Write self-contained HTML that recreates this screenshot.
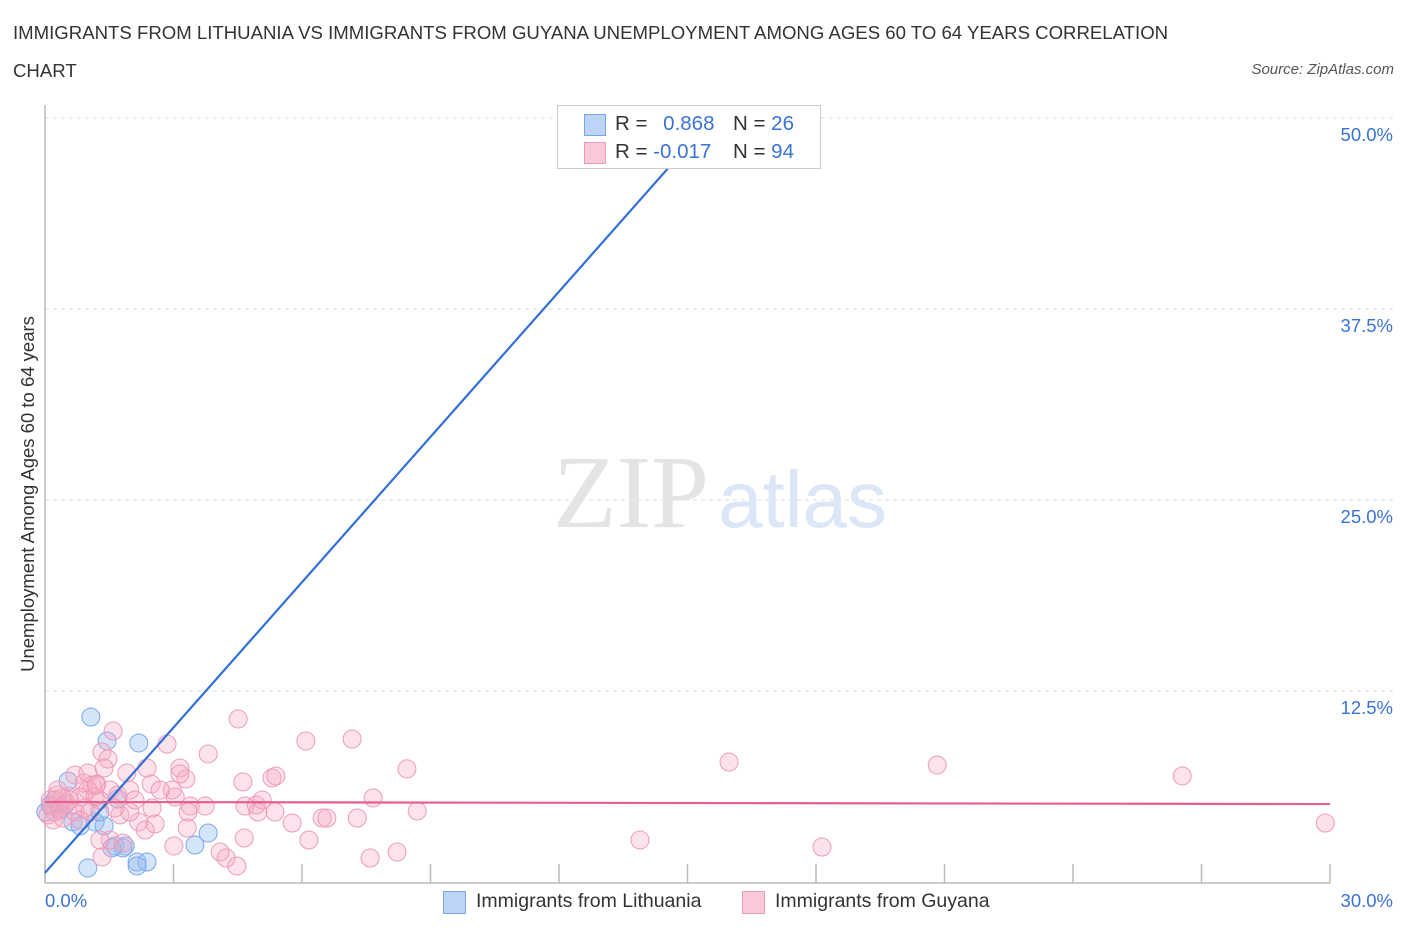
<!DOCTYPE html>
<html><head><meta charset="utf-8"><style>
body{margin:0;background:#fff;font-family:"Liberation Sans",sans-serif;}
#wrap{position:relative;width:1406px;height:930px;overflow:hidden;}
.t{position:absolute;white-space:nowrap;}
</style></head><body>
<div id="wrap">
<div class="t" style="left:13px;top:14px;font-size:18.6px;color:#333;line-height:38px;width:1190px;white-space:normal;">IMMIGRANTS FROM LITHUANIA VS IMMIGRANTS FROM GUYANA UNEMPLOYMENT AMONG AGES 60 TO 64 YEARS CORRELATION CHART</div>
<div class="t" style="right:12px;top:61px;font-size:15px;color:#555;font-style:italic;">Source: ZipAtlas.com</div>
<svg id="svg" width="1406" height="930" style="position:absolute;left:0;top:0"></svg>
</div>
<script>
const xTickVals=[0,3,6,9,12,15,18,21,24,27,30];
const yTickVals=[12.5,25,37.5,50];
const yTickLabels=["12.5%","25.0%","37.5%","50.0%"];
const lithX=[1.07,1.45,2.19,1.70,0.54,0.23,0.12,0.65,1.17,0.82,1.38,1.63,1.87,1.82,3.81,3.50,2.15,2.38,1.00,2.15,13.40,0.02,0.35,0.47,1.28,1.56];
const lithY=[10.80,9.23,9.10,5.43,6.61,5.37,5.04,3.93,3.93,3.67,3.67,2.36,2.36,2.23,3.21,2.42,1.31,1.31,0.92,1.05,50.2,4.58,4.71,5.04,4.58,2.23];
const guyX=[1.59,1.33,1.47,1.38,1.91,2.38,0.70,0.91,1.10,1.21,1.00,1.52,0.30,0.56,0.82,1.17,1.28,1.70,1.98,2.48,2.85,3.15,3.29,2.97,3.04,2.50,2.19,2.34,2.57,1.75,1.98,1.52,1.28,1.33,1.82,3.01,3.32,3.39,3.74,3.34,4.51,3.81,4.62,4.67,4.93,4.97,4.65,4.09,4.23,4.48,5.30,5.39,5.07,5.37,5.77,6.09,6.16,6.47,6.58,7.17,7.66,7.29,8.45,8.69,7.59,8.22,15.97,20.83,26.55,29.89,13.89,18.14,0.12,0.16,0.23,0.07,0.35,0.40,0.49,0.58,0.19,0.42,0.70,0.93,1.05,0.82,0.28,1.00,1.19,1.63,2.10,3.15,2.69];
const guyY=[9.88,8.51,8.05,7.46,7.13,7.46,7.00,6.48,6.35,6.41,6.02,6.02,6.02,5.63,5.56,5.56,5.37,5.69,6.02,6.41,9.03,7.46,6.74,6.02,5.56,4.84,3.93,3.40,3.80,4.39,4.58,2.75,2.75,1.64,2.55,2.36,3.53,4.97,4.97,4.58,10.67,8.38,6.55,4.97,5.04,4.58,2.88,1.96,1.57,1.05,6.81,6.94,5.37,4.58,3.86,9.23,2.75,4.19,4.19,9.36,5.50,4.19,7.40,4.65,1.57,1.96,7.85,7.66,6.94,3.86,2.75,2.29,5.37,4.97,4.58,4.39,4.84,5.50,5.17,5.37,4.06,4.19,4.58,4.84,4.58,4.06,5.69,7.13,6.35,4.84,5.37,7.07,6.02];
const lithTrend=[0.6,3.17];   // intercept, slope
const guyTrend=[5.24,5.10];   // y at x=0, y at x=30

const X0=45,X1=1330,Y0=882,Y50=118;
const sx=v=>X0+(X1-X0)*v/30;
const sy=v=>Y0-(Y0-Y50)*v/50;
const svg=document.getElementById('svg');
const NS='http://www.w3.org/2000/svg';
function mk(tag,attrs,parent){const e=document.createElementNS(NS,tag);for(const k in attrs)e.setAttribute(k,attrs[k]);(parent||svg).appendChild(e);return e;}

yTickVals.forEach((v,i)=>{
  const g=mk('line',{x1:X0,x2:1395,y1:sy(v),y2:sy(v),stroke:'#ddd','stroke-dasharray':'4,4'});
  
  
  const t=mk('text',{x:1393,y:sy(v)+23,'text-anchor':'end','font-size':18.5,fill:'#3a72d6','font-family':'Liberation Sans, sans-serif'});
  t.textContent=yTickLabels[i];
  
  
});
// watermark
const wm=mk('text',{x:553,y:527,'font-size':104,fill:'#e4e4e4','font-family':'Liberation Serif, serif'});wm.textContent='ZIP';


const wm2=mk('text',{x:718,y:527,'font-size':80,fill:'#dbe6f6','font-family':'Liberation Sans, sans-serif'});wm2.textContent='atlas';



// axes
const ax=mk('line',{x1:X0,x2:X0,y1:105,y2:Y0+1,stroke:'#bbb','stroke-width':1.5});


const bx=mk('line',{x1:X0,x2:X1,y1:Y0+1,y2:Y0+1,stroke:'#bbb','stroke-width':1.5});


xTickVals.forEach(v=>{
  const tk=mk('line',{x1:sx(v),x2:sx(v),y1:864,y2:Y0+1,stroke:'#bbb','stroke-width':1.5});
  
  
});

// points
lithX.forEach((v,i)=>{
  const c=mk('circle',{cx:sx(v),cy:sy(lithY[i]),r:9,fill:'rgba(150,190,240,0.4)',stroke:'#7aa8ea','stroke-width':1});
  
  
});
guyX.forEach((v,i)=>{
  const c=mk('circle',{cx:sx(v),cy:sy(guyY[i]),r:9,fill:'rgba(245,170,195,0.33)',stroke:'#ef9ab8','stroke-width':1});
  
  
});
// trend lines
const lx2=(50-lithTrend[0])/lithTrend[1];
const l1=mk('line',{x1:sx(0),y1:sy(lithTrend[0]),x2:sx(lx2),y2:sy(50),stroke:'#2f6fd6','stroke-width':2.2});


const l2=mk('line',{x1:sx(0),y1:sy(guyTrend[0]),x2:sx(30),y2:sy(guyTrend[1]),stroke:'#e5608c','stroke-width':2.2});


</script>
<!-- stats legend -->
<div style="position:absolute;left:557px;top:105px;width:262px;height:62px;background:#fff;border:1px solid #ccc;font-size:20.5px;color:#333;">
 <div style="position:absolute;left:26px;top:8px;width:20px;height:20px;background:#bcd4f6;border:1px solid #7aa6e6;"></div>
 <div class="t" style="left:57px;top:6px;">R = <span style="color:#3a72d6;margin-left:10px">0.868</span></div>
 <div class="t" style="left:175px;top:6px;">N = <span style="color:#3a72d6">26</span></div>
 <div style="position:absolute;left:26px;top:36px;width:20px;height:20px;background:#f9c9d8;border:1px solid #ee99b5;"></div>
 <div class="t" style="left:57px;top:34px;">R = <span style="color:#3a72d6">-0.017</span></div>
 <div class="t" style="left:175px;top:34px;">N = <span style="color:#3a72d6">94</span></div>
</div>
<div class="t" style="left:28px;top:494px;font-size:18.5px;color:#333;transform:translate(-50%,-50%) rotate(-90deg);">Unemployment Among Ages 60 to 64 years</div>
<div class="t" style="left:45px;top:890px;font-size:18.5px;color:#3a72d6;">0.0%</div>
<div class="t" style="right:13px;top:890px;font-size:18.5px;color:#3a72d6;">30.0%</div>
<div style="position:absolute;left:443px;top:891px;">
 <div style="position:absolute;left:0;top:0;width:21px;height:21px;background:#bcd4f6;border:1px solid #7aa6e6;"></div>
 <div class="t" style="left:33px;top:-1px;font-size:19.5px;color:#333;">Immigrants from Lithuania</div>
</div>
<div style="position:absolute;left:742px;top:891px;">
 <div style="position:absolute;left:0;top:0;width:21px;height:21px;background:#f9c9d8;border:1px solid #ee99b5;"></div>
 <div class="t" style="left:33px;top:-1px;font-size:19.5px;color:#333;">Immigrants from Guyana</div>
</div>
</body></html>
